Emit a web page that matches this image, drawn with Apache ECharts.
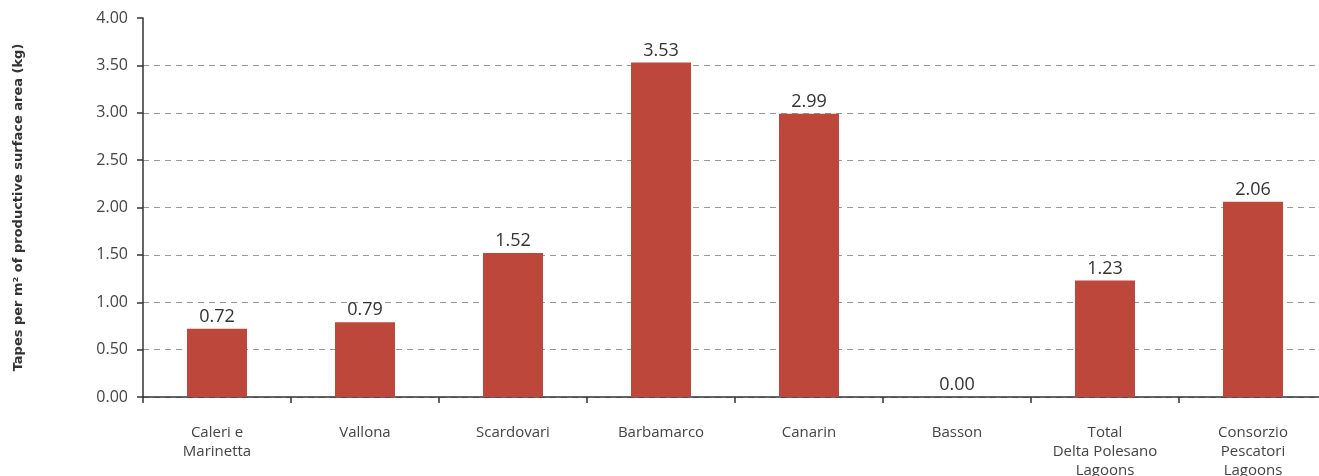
<!DOCTYPE html>
<html>
<head>
<meta charset="utf-8">
<script src="https://cdn.jsdelivr.net/npm/echarts@6/dist/echarts.min.js"></script>
<style>
html,body{margin:0;padding:0;background:#fff;}
#chart{width:1319px;height:476px;}
</style>
</head>
<body>
<div id="chart"></div>
<script>
const categories = ["Caleri e\nMarinetta", "Vallona", "Scardovari", "Barbamarco", "Canarin", "Basson", "Total\nDelta Polesano\nLagoons", "Consorzio\nPescatori\nLagoons"];
const values = [0.72, 0.79, 1.52, 3.53, 2.99, 0.00, 1.23, 2.06];
const yTicks = [0, 0.5, 1, 1.5, 2, 2.5, 3, 3.5, 4];
const yAxisTitle = "Tapes per m\u00b2 of productive surface area (kg)";

const chart = echarts.init(document.getElementById('chart'));
const font = "'Open Sans', sans-serif";
const gridColors = yTicks.map((v, i) => i === yTicks.length - 1 ? 'rgba(0,0,0,0)' : '#999');
chart.setOption({
  animation: false,
  grid: { left: 143, top: 18, width: 1184, height: 379, containLabel: false, outerBoundsMode: 'none' },
  xAxis: {
    type: 'category',
    data: categories,
    axisLine: { lineStyle: { color: '#333', width: 1.5 } },
    axisTick: { show: true, length: 6, lineStyle: { color: '#333', width: 1.5 }, alignWithLabel: false },
    axisLabel: { color: '#444', fontSize: 15, fontFamily: font, lineHeight: 19, margin: 26, interval: 0 }
  },
  yAxis: {
    type: 'value',
    min: 0, max: 4, interval: 0.5,
    name: yAxisTitle,
    nameLocation: 'middle',
    nameGap: 118,
    nameTextStyle: { color: '#333', fontSize: 13, fontWeight: 'bold', fontFamily: "'DejaVu Sans', sans-serif" },
    axisLine: { show: true, lineStyle: { color: '#333', width: 1.5 } },
    axisTick: { show: true, length: 6, lineStyle: { color: '#333', width: 1.5 } },
    axisLabel: {
      color: '#444', fontSize: 16, fontFamily: font, margin: 15,
      formatter: v => yTicks.includes(v) ? v.toFixed(2) : ''
    },
    splitLine: {
      show: true,
      lineStyle: { color: gridColors, type: [6, 5], width: 1 }
    }
  },
  series: [{
    type: 'bar',
    data: values,
    barWidth: 60,
    itemStyle: { color: '#bc473a' },
    label: {
      show: true, position: 'top', distance: 3,
      color: '#333', fontSize: 18, fontFamily: font,
      formatter: p => p.value.toFixed(2)
    }
  }]
});
</script>
</body>
</html>
